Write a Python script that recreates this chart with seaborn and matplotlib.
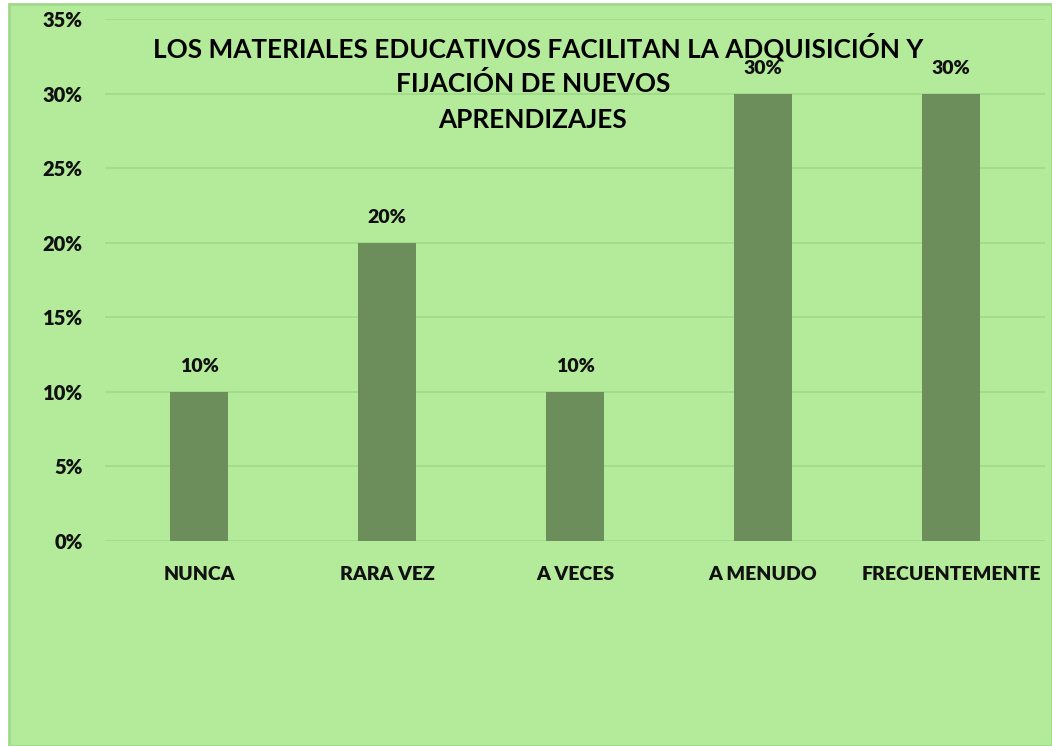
import matplotlib
matplotlib.use("Agg")
import matplotlib.pyplot as plt
import seaborn as sns
import pandas as pd
from matplotlib.patches import Rectangle

categories = ["NUNCA", "RARA VEZ", "A VECES", "A MENUDO", "FRECUENTEMENTE"]
values = [0.10, 0.20, 0.10, 0.30, 0.30]
value_labels = ["10%", "20%", "10%", "30%", "30%"]
y_ticks = [0, 0.05, 0.10, 0.15, 0.20, 0.25, 0.30, 0.35]
y_tick_labels = ["0%", "5%", "10%", "15%", "20%", "25%", "30%", "35%"]
title_lines = ["LOS MATERIALES EDUCATIVOS FACILITAN LA ADQUISICIÓN Y",
               "FIJACIÓN DE NUEVOS",
               "APRENDIZAJES"]

sns.set_theme(style="white")
plt.rcParams['font.family'] = ['Lato', 'DejaVu Sans']

BG = "#b3eb9b"
BAR = "#6b8e5a"
GRID = "#9fd88a"
TXT = "#111111"

fig = plt.figure(figsize=(10.52, 7.46), dpi=100)
fig.patch.set_facecolor("white")
# chart area background with border
fig.patches.append(Rectangle((9/1052, 0), 1 - 9/1052, 1 - 4/746, transform=fig.transFigure,
                             facecolor=BG, edgecolor="#9fd88a", linewidth=2, zorder=-5))

ax = fig.add_axes([105/1052, 205/746, (1045-105)/1052, (541-19)/746])
ax.set_facecolor("none")
ax.set_zorder(2)

df = pd.DataFrame({"cat": categories, "val": values})
sns.barplot(data=df, x="cat", y="val", color=BAR, width=0.31, saturation=1, ax=ax,
            zorder=3, edgecolor="none", linewidth=0)

ax.set_ylim(0, 0.35)
ax.set_yticks(y_ticks)
ax.set_yticklabels(y_tick_labels, fontsize=14.5, fontweight="heavy", color=TXT)
ax.set_xticklabels(categories, fontsize=14, fontweight="heavy", color=TXT)
ax.tick_params(axis="y", length=0, pad=16)
ax.tick_params(axis="x", length=0, pad=18)
ax.set_xlabel("")
ax.set_ylabel("")
ax.grid(axis="y", color=GRID, linewidth=1.2, zorder=0)
ax.set_axisbelow(True)
for s in ax.spines.values():
    s.set_visible(False)

for i, (v, lab) in enumerate(zip(values, value_labels)):
    ax.annotate(lab, (i, v), xytext=(0, 18), textcoords="offset points",
                ha="center", va="center", fontsize=14, fontweight="heavy", color=TXT)

ys = [47, 84, 120]
xs = [538, 533, 533]
for t, y, x in zip(title_lines, ys, xs):
    fig.text(x/1052, 1 - y/746, t, ha="center", va="center", fontsize=18.8,
             fontweight="bold", color="black", zorder=5)

fig.savefig("out.png", dpi=100, facecolor=fig.get_facecolor())
